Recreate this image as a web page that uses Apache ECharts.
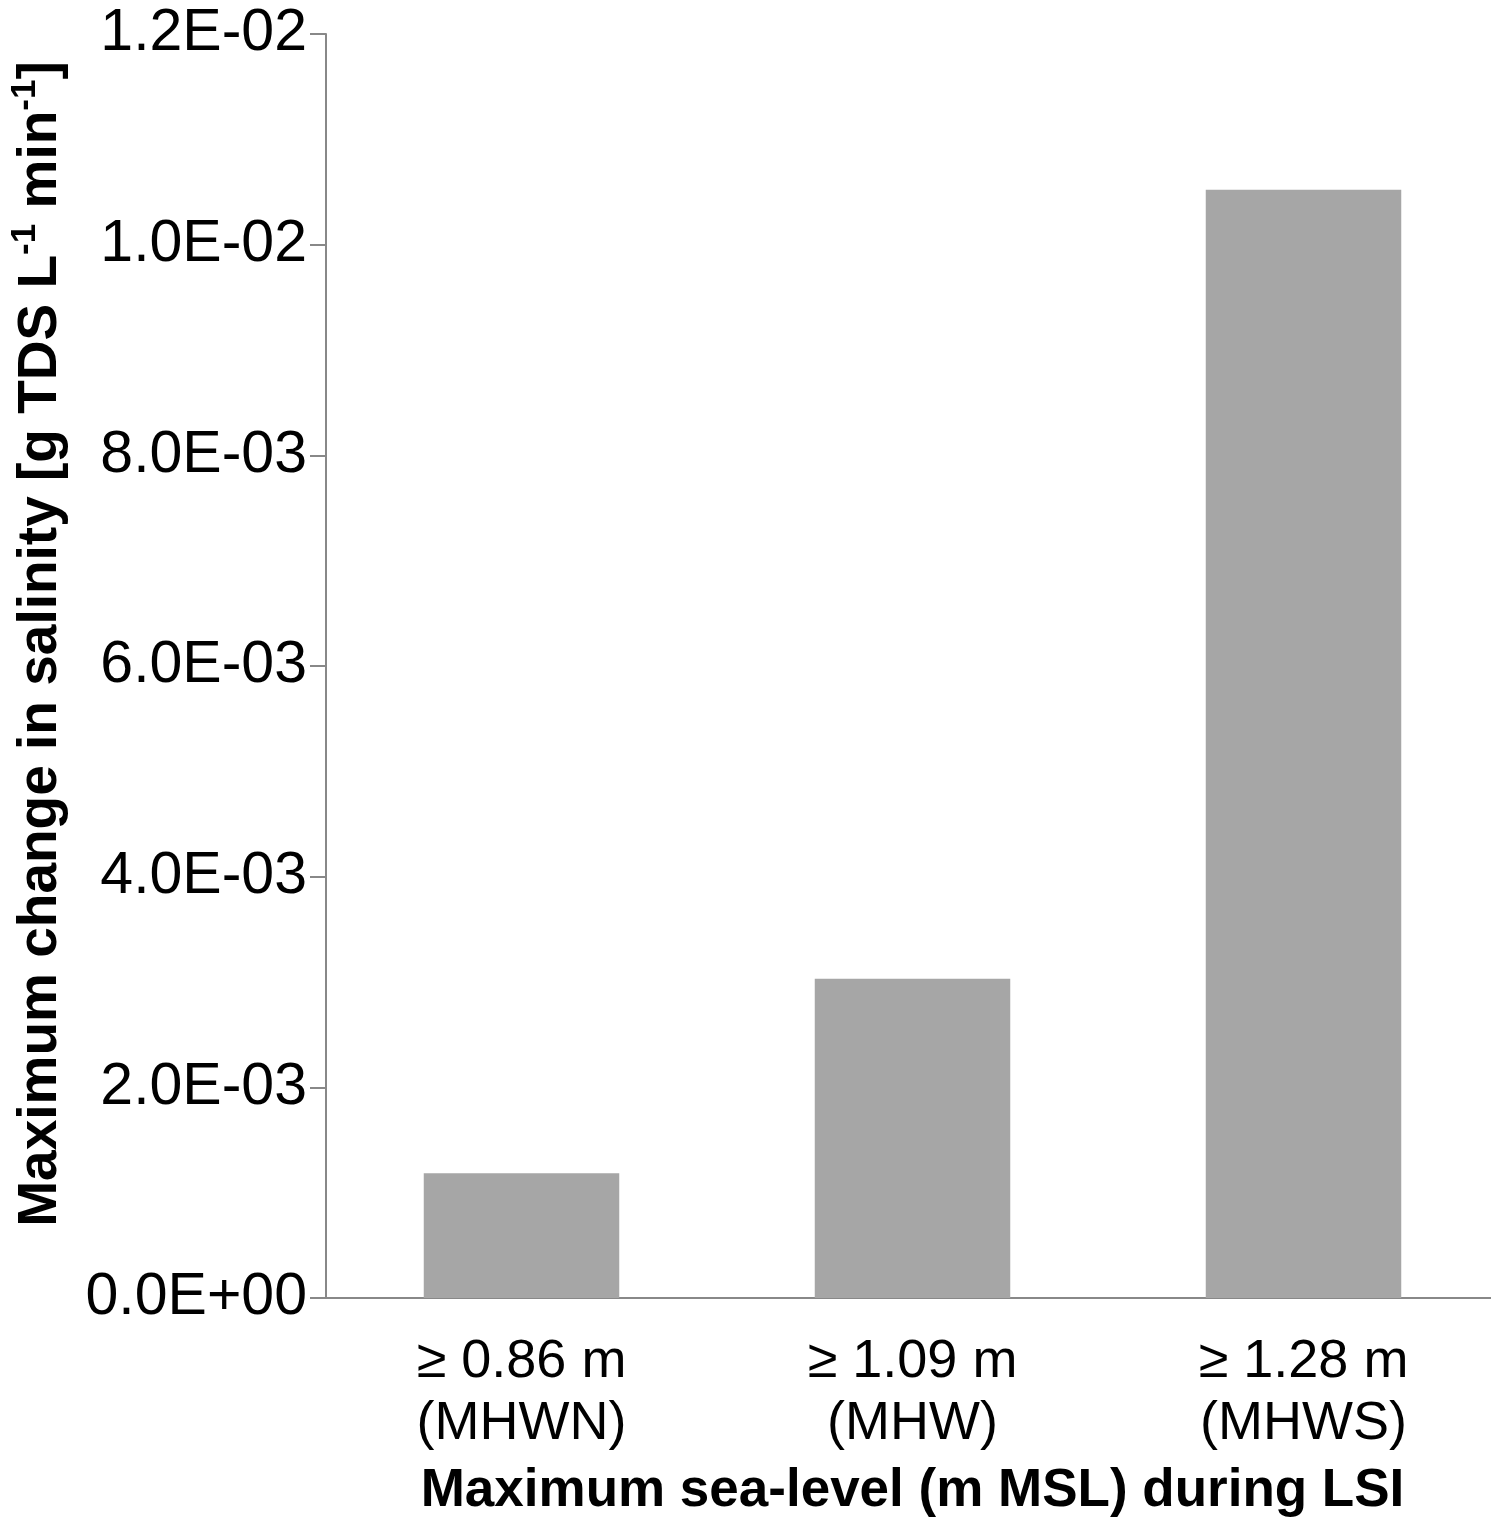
<!DOCTYPE html>
<html>
<head>
<meta charset="utf-8">
<script src="https://cdn.jsdelivr.net/npm/echarts@6/dist/echarts.min.js"></script>
<style>
html,body{margin:0;padding:0;background:#fff;overflow:hidden;}
#chart{width:1499px;height:1524px;}
</style>
</head>
<body>
<div id="chart"></div>
<script>
const categories = ['≥ 0.86 m\n(MHWN)', '≥ 1.09 m\n(MHW)', '≥ 1.28 m\n(MHWS)'];
const values = [0.001184, 0.003031, 0.010522];
const yTickLabels = ['0.0E+00', '2.0E-03', '4.0E-03', '6.0E-03', '8.0E-03', '1.0E-02', '1.2E-02'];
const xTitle = 'Maximum sea-level (m MSL) during LSI';

const chart = echarts.init(document.getElementById('chart'));
const FONT = '"Liberation Sans", Arial, sans-serif';
chart.setOption({
  animation: false,
  backgroundColor: '#ffffff',
  grid: { left: 326, right: 0, top: 34, bottom: 226, containLabel: false },
  xAxis: {
    type: 'category',
    data: categories,
    axisLine: { show: true, lineStyle: { color: '#888888', width: 2 } },
    axisTick: { show: false },
    axisLabel: {
      color: '#000', fontFamily: FONT, fontSize: 54, lineHeight: 62, margin: 33, interval: 0
    },
    name: xTitle,
    nameLocation: 'middle',
    nameGap: 167,
    nameTextStyle: { color: '#000', fontFamily: FONT, fontSize: 53, fontWeight: 'bold', lineHeight: 53 }
  },
  yAxis: {
    type: 'value',
    min: 0, max: 0.012, interval: 0.002,
    splitLine: { show: false },
    axisLine: { show: true, lineStyle: { color: '#888888', width: 2 } },
    axisTick: { show: true, inside: false, length: 16, lineStyle: { color: '#888888', width: 2 } },
    axisLabel: {
      color: '#000', fontFamily: FONT, fontSize: 59, margin: 19,
      formatter: function (v, i) { return yTickLabels[i]; }
    },
    name: '{t|Maximum change in salinity [g TDS L}{s|-1}{t| min}{s|-1}{t|]}',
    nameLocation: 'middle',
    nameRotate: 90,
    nameGap: 258,
    nameTextStyle: {
      padding: [0, 0, 0, 44],
      rich: {
        t: { color: '#000', fontFamily: FONT, fontSize: 55, fontWeight: 'bold', lineHeight: 60, verticalAlign: 'bottom' },
        s: { color: '#000', fontFamily: FONT, fontSize: 35, fontWeight: 'bold', lineHeight: 60, verticalAlign: 'top' }
      }
    }
  },
  series: [{
    type: 'bar',
    data: values,
    barWidth: '50%',
    itemStyle: { color: '#a6a6a6' }
  }]
});
</script>
</body>
</html>
